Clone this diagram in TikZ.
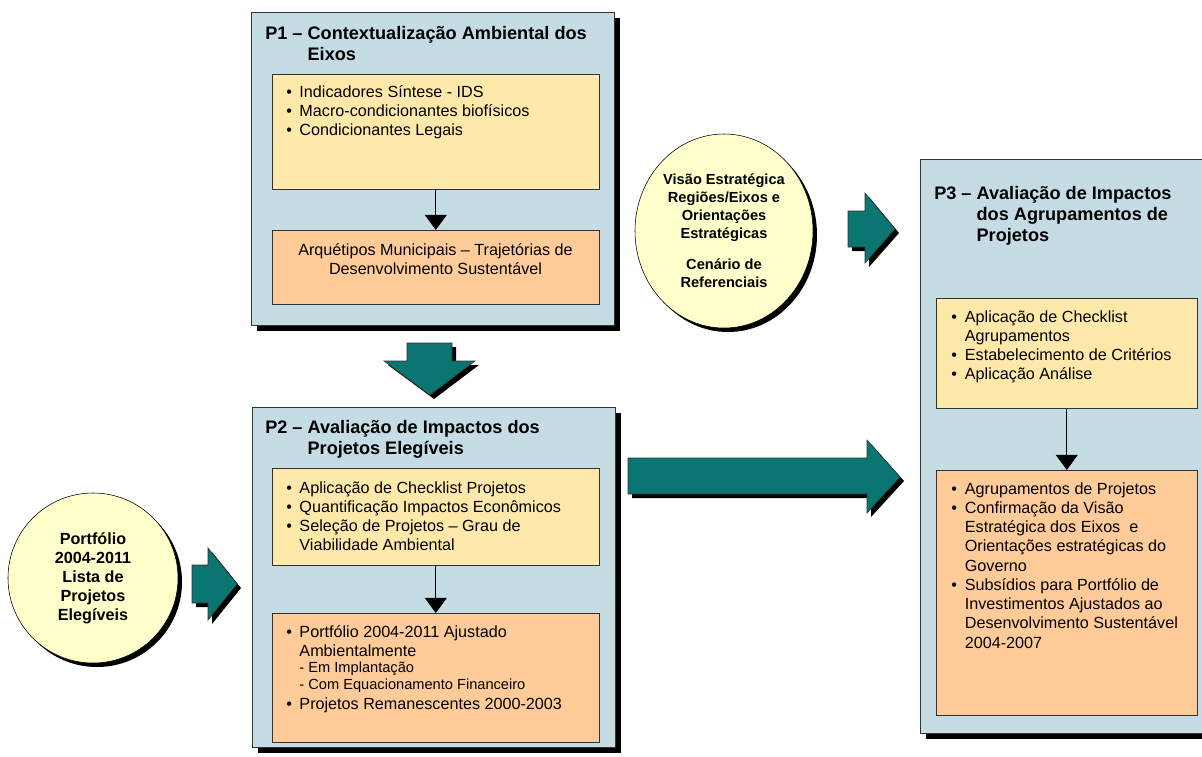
\documentclass[tikz,border=0pt]{standalone}
\usepackage{fontspec}
\setmainfont{Liberation Sans}
\usetikzlibrary{arrows.meta, shapes.geometric, shadows}
\usepackage{xcolor}
\definecolor{panelblue}{RGB}{197,220,229}
\definecolor{listyellow}{RGB}{255,233,170}
\definecolor{resorange}{RGB}{255,204,153}
\definecolor{bubbleyellow}{RGB}{255,255,204}
\definecolor{arrowteal}{RGB}{10,117,113}

\begin{document}
\begin{tikzpicture}[
x=0.25mm, y=-0.25mm,
panel/.style={draw=black!80,
fill=panelblue,
rectangle,
anchor=north west,
inner sep=0pt,
drop shadow={shadow xshift=1.5mm, shadow yshift=-1.5mm, fill=black, opacity=1}},
listbox/.style={draw=black!80, fill=listyellow, rectangle, anchor=north west, inner sep=0pt, minimum width=81.75mm},
resbox/.style={listbox, fill=resorange},
bubble/.style={draw=black, fill=bubbleyellow, ellipse, inner sep=0pt, align=center,
drop shadow={shadow xshift=1mm, shadow yshift=-1mm, fill=black, opacity=1}},
paneltitle/.style={anchor=base west, inner sep=0pt, font=\fontsize{12.9}{15}\selectfont\bfseries},
itemtext/.style={anchor=base west, inner sep=0pt, font=\fontsize{11.5}{13.7}\selectfont},
arrow/.style={-{Triangle[width=5.5mm, length=3.8mm]}, line width=0.8pt},
blockarrow/.style={draw=black!80, fill=arrowteal,
drop shadow={shadow xshift=1mm, shadow yshift=-1mm, fill=black, opacity=1}}
]
\clip (0,0) rectangle (1202,756);
\fill[white] (0,0) rectangle (1202,756);

% P1
\node[panel, minimum width=90.75mm, minimum height=78.25mm] (p1) at (251,12) {};
\node[paneltitle] (p1title) at (265,39) {\begin{tabular}[t]{@{}l@{}l@{}}P1 –~ & Contextualização Ambiental dos\\ & Eixos\end{tabular}};
\node[listbox, minimum height=28.75mm] (p1list) at (272,74) {};
\node[resbox, minimum height=18.5mm] (p1res) at (272,230) {};
\node[itemtext] (p1items) at (286,97) {\begin{tabular}[t]{@{}p{3.3mm}@{}l@{}}
• & Indicadores Síntese - IDS\\
• & Macro-condicionantes biofísicos\\
• & Condicionantes Legais
\end{tabular}};
\node[itemtext, anchor=center, align=center] (p1restext) at (435.5,259) {Arquétipos Municipais – Trajetórias de\\Desenvolvimento Sustentável};
\draw[arrow] (p1list) -- (p1res);

% P2
\node[panel, minimum width=90.75mm, minimum height=85mm] (p2) at (252,407) {};
\node[paneltitle] (p2title) at (265,433) {\begin{tabular}[t]{@{}l@{}l@{}}P2 –~ & Avaliação de Impactos dos\\ & Projetos Elegíveis\end{tabular}};
\node[listbox, minimum height=24.25mm] (p2list) at (272,468) {};
\node[resbox, minimum height=32.25mm] (p2res) at (272,613) {};
\node[itemtext] (p2items) at (286,493) {\begin{tabular}[t]{@{}p{3.3mm}@{}l@{}}
• & Aplicação de Checklist Projetos\\
• & Quantificação Impactos Econômicos\\
• & Seleção de Projetos – Grau de\\
 & Viabilidade Ambiental
\end{tabular}};
\node[itemtext] (p2resitems) at (286,637) {\begin{tabular}[t]{@{}p{3.3mm}@{}l@{}}
• & Portfólio 2004-2011 Ajustado\\
 & Ambientalmente\\[-2.5pt]
 & {\fontsize{10.4}{12}\selectfont - Em Implantação}\\[-1pt]
 & {\fontsize{10.4}{12}\selectfont - Com Equacionamento Financeiro}\\
• & Projetos Remanescentes 2000-2003
\end{tabular}};
\draw[arrow] (p2list) -- (p2res);

% P3
\node[panel, minimum width=75mm, minimum height=143.5mm] (p3) at (920,159) {};
\node[paneltitle] (p3title) at (934,199) {\begin{tabular}[t]{@{}l@{}l@{}}P3 –~ & Avaliação de Impactos\\ & dos Agrupamentos de\\ & Projetos\end{tabular}};
\node[listbox, minimum width=65.25mm, minimum height=27.5mm] (p3list) at (936,298) {};
\node[resbox, minimum width=65.25mm, minimum height=61.25mm] (p3res) at (936,470) {};
\node[itemtext] (p3items) at (951,322) {\begin{tabular}[t]{@{}p{3.4mm}@{}l@{}}
• & Aplicação de Checklist\\
 & Agrupamentos\\
• & Estabelecimento de Critérios\\
• & Aplicação Análise
\end{tabular}};
\node[itemtext] (p3resitems) at (951,494) {\begin{tabular}[t]{@{}p{3.4mm}@{}l@{}}
• & Agrupamentos de Projetos\\
• & Confirmação da Visão\\
 & Estratégica dos Eixos~ e\\
 & Orientações estratégicas do\\
 & Governo\\
• & Subsídios para Portfólio de\\
 & Investimentos Ajustados ao\\
 & Desenvolvimento Sustentável\\
 & 2004-2007
\end{tabular}};
\draw[arrow] (p3list) -- (p3res);

% circles
\node[bubble, minimum width=44.5mm, minimum height=48.5mm, font=\fontsize{10.4}{12.6}\selectfont\bfseries] (vision) at (724,231)
{Visão Estratégica\\Regiões/Eixos e\\Orientações\\Estratégicas\\[10pt]Cenário de\\Referenciais};
\node[bubble, minimum width=42.5mm, minimum height=42.5mm, font=\fontsize{11.5}{13.5}\selectfont\bfseries] (portfolio) at (93,578)
{Portfólio\\2004-2011\\Lista de\\Projetos\\Elegíveis};

% block arrows
\draw[blockarrow] (407,343) -- (452,343) -- (452,361) -- (475,361) -- (430,395) -- (384,361) -- (407,361) -- cycle;
\draw[blockarrow] (192,565) -- (208,565) -- (208,548) -- (237,584) -- (208,620) -- (208,603) -- (192,603) -- cycle;
\draw[blockarrow] (628,458) -- (867,458) -- (867,440) -- (900,477) -- (867,513) -- (867,494) -- (628,494) -- cycle;
\draw[blockarrow] (848,211) -- (865,211) -- (865,193) -- (895,229) -- (865,263) -- (865,247) -- (848,247) -- cycle;

\end{tikzpicture}
\end{document}
